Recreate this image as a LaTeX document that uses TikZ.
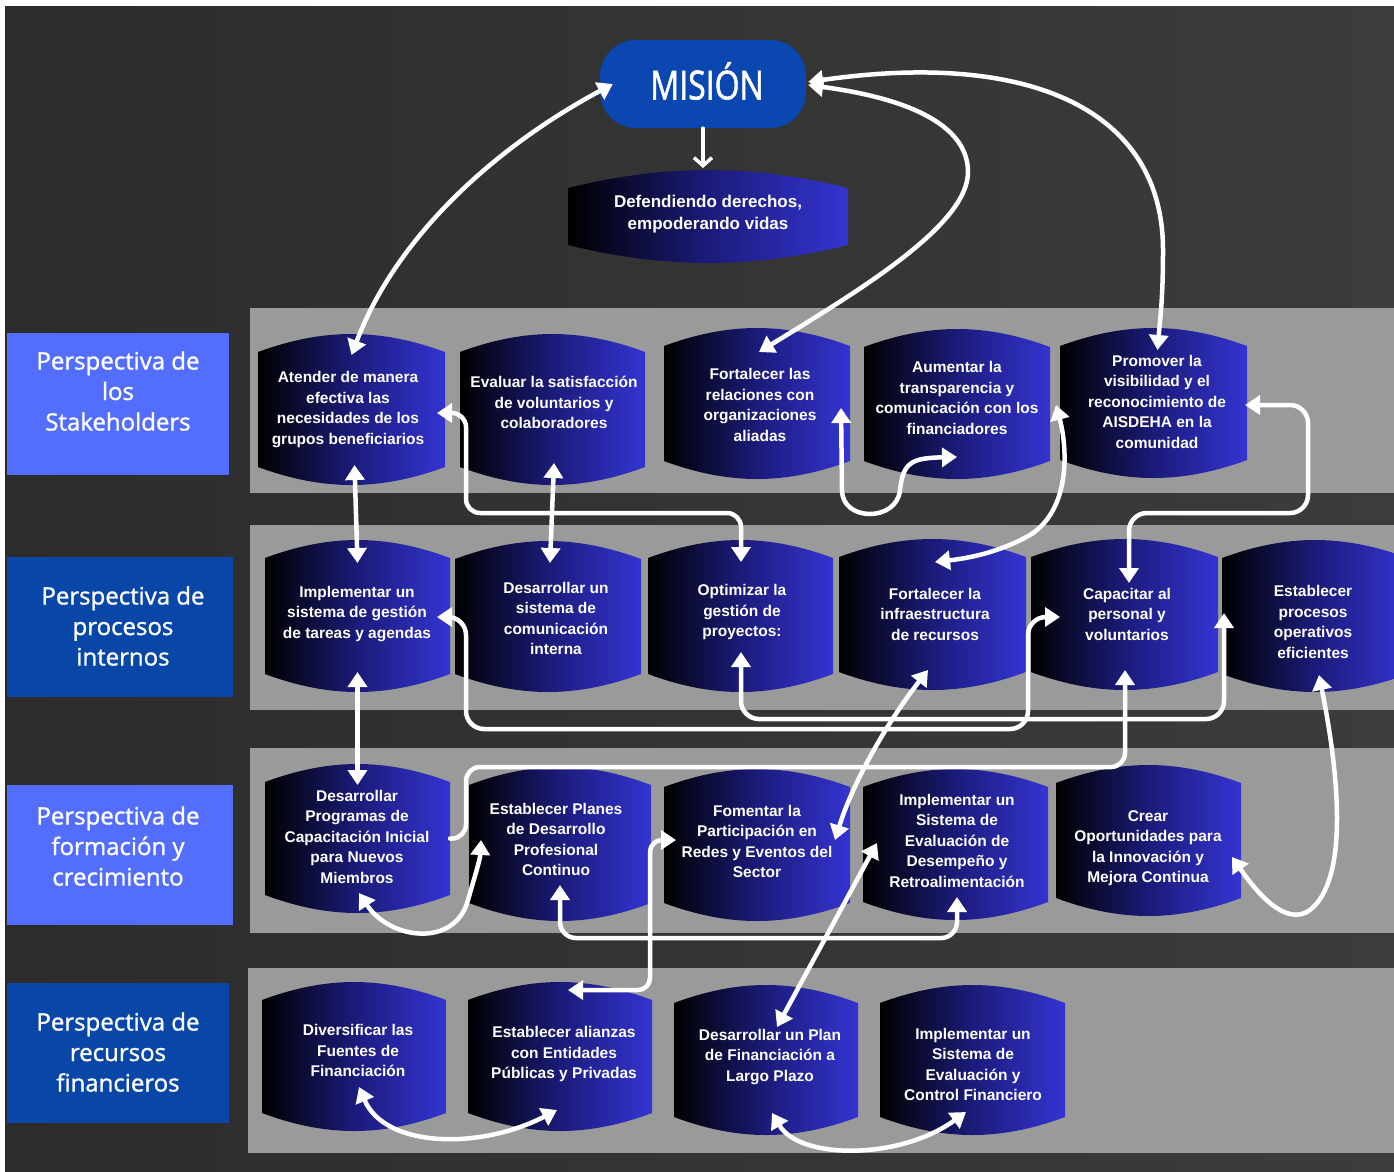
\documentclass[tikz,border=0pt]{standalone}
\usepackage{fontspec}
\usetikzlibrary{arrows.meta,calc}
\newfontfamily\boxfont{Liberation Sans}
\newfontfamily\perfont[FakeBold=1.2]{Open Sans}
\newfontfamily\misfont[FakeBold=1.6]{Open Sans}
\definecolor{bgA}{HTML}{2C2C2C}
\definecolor{bgB}{HTML}{3C3C3C}
\definecolor{band}{HTML}{9A9A9A}
\definecolor{lblue}{HTML}{536EFC}
\definecolor{dblue}{HTML}{0847A8}
\definecolor{misblue}{HTML}{0B47B1}
\definecolor{boxr}{HTML}{3434D2}
\definecolor{boxm}{HTML}{1B1B7A}
\tikzset{
  boxfill/.style={left color=black, right color=boxr, middle color=boxm},
  boxtext/.style={text=white, align=center, inner sep=0pt,
    font=\boxfont\bfseries\fontsize{15.5}{20.5}\selectfont},
  perbox/.style={inner sep=0pt, outer sep=0pt},
  pertext/.style={text=white, align=center, inner sep=0pt,
    font=\perfont\fontsize{24}{30.5}\selectfont},
  conn/.style={draw=white, line width=4.5pt, line cap=round, line join=round},
  >={Triangle[width=19pt,length=15pt]}
}
\newcommand\obox[8]{%
  \node[minimum width=#4pt, minimum height=#5pt, inner sep=0pt, outer sep=0pt] (#1) at (#2,#3) {};
  \path[boxfill] (#1.north west)
     .. controls ($(#1.north west)+(0.35*#4,-24)$) and ($(#1.north east)+(-0.35*#4,-24)$) .. (#1.north east)
     -- (#1.south east)
     .. controls ($(#1.south east)+(-0.35*#4,24)$) and ($(#1.south west)+(0.35*#4,24)$) .. (#1.south west)
     -- cycle;
  \node[boxtext] at (#6,#7) {#8};
}
\begin{document}
\begin{tikzpicture}[x=1pt,y=-1pt]
\useasboundingbox (0,0) rectangle (1394,1171);
\fill[white] (0,0) rectangle (1394,1171);
\shade[left color=bgA, right color=bgB] (5,6) rectangle (1394,1171);
% bands
\fill[band] (250,308) rectangle (1394,493);
\fill[band] (250,525) rectangle (1394,710);
\fill[band] (250,748) rectangle (1394,933);
\fill[band] (248,968) rectangle (1394,1153);
% perspective labels
\node[perbox, fill=lblue, minimum width=222pt, minimum height=142pt] (P1) at (118,404) {};
\node[pertext] at (118,391) {Perspectiva de\\los\\Stakeholders};
\node[perbox, fill=dblue, minimum width=226pt, minimum height=140pt] (P2) at (120,627) {};
\node[pertext] at (123,626) {Perspectiva de\\procesos\\internos};
\node[perbox, fill=lblue, minimum width=226pt, minimum height=140pt] (P3) at (120,855) {};
\node[pertext] at (118,846) {Perspectiva de\\formación y\\crecimiento};
\node[perbox, fill=dblue, minimum width=222pt, minimum height=140pt] (P4) at (118,1053) {};
\node[pertext] at (118,1052) {Perspectiva de\\recursos\\financieros};
% mission
\node[fill=misblue, rounded corners=36pt, minimum width=206pt, minimum height=88pt, inner sep=0pt] (MIS) at (703,84) {};
\node[text=white, font=\misfont\fontsize{40}{41}\selectfont, inner sep=0pt] at (707,81) {\scalebox{0.8}[1]{MISIÓN}};
\obox{DEF}{708}{216.5}{280}{57}{708}{214}{}
\node[text=white, align=center, inner sep=0pt, font=\boxfont\bfseries\fontsize{17}{22}\selectfont] at (708,214) {Defendiendo derechos,\\empoderando vidas};
% row 1
\obox{A1}{351.5}{409.5}{187}{115}{348}{409.5}{Atender de manera\\efectiva las\\necesidades de los\\grupos beneficiarios}
\obox{A2}{552.5}{409.5}{185}{115}{554}{402.5}{Evaluar la satisfacción\\de voluntarios y\\colaboradores}
\obox{A3}{757}{403.5}{186}{115}{760}{405}{Fortalecer las\\relaciones con\\organizaciones\\aliadas}
\obox{A4}{957}{404}{186}{114}{957}{398}{Aumentar la\\transparencia y\\comunicación con los\\financiadores}
\obox{A5}{1153.5}{403}{187}{114}{1157}{401.5}{Promover la\\visibilidad y el\\reconocimiento de\\AISDEHA en la\\comunidad}
% row 2
\obox{B1}{357.5}{616}{185}{116}{357}{614}{Implementar un\\sistema de gestión\\de tareas y agendas}
\obox{B2}{548}{616.5}{186}{115}{556}{618.5}{Desarrollar un\\sistema de\\comunicación\\interna}
\obox{B3}{740.5}{616}{185}{116}{742}{612}{Optimizar la\\gestión de\\proyectos:}
\obox{B4}{932.5}{614.5}{187}{115}{935}{614}{Fortalecer la\\infraestructura\\de recursos}
\obox{B5}{1124.5}{614.5}{187}{115}{1127}{614}{Capacitar al\\personal y\\voluntarios}
\obox{B6}{1315}{616}{186}{116}{1313}{622}{Establecer\\procesos\\operativos\\eficientes}
% row 3
\obox{C1}{357.5}{838.5}{185}{113}{357}{836.5}{Desarrollar\\Programas de\\Capacitación Inicial\\para Nuevos\\Miembros}
\obox{C2}{560}{844}{182}{118}{556}{839.5}{Establecer Planes\\de Desarrollo\\Profesional\\Continuo}
\obox{C3}{757}{845}{186}{116}{757}{841.5}{Fomentar la\\Participación en\\Redes y Eventos del\\Sector}
\obox{C4}{955.5}{844.5}{185}{115}{957}{840.5}{Implementar un\\Sistema de\\Evaluación de\\Desempeño y\\Retroalimentación}
\obox{C5}{1148.5}{840.5}{185}{115}{1148}{848}{Crear\\Oportunidades para\\la Innovación y\\Mejora Continua}
% row 4
\obox{D1}{354}{1056.5}{184}{113}{358}{1050.5}{Diversificar las\\Fuentes de\\Financiación}
\obox{D2}{560}{1056.5}{184}{113}{564}{1054}{Establecer alianzas\\con Entidades\\Públicas y Privadas}
\obox{D3}{766}{1060}{184}{114}{770}{1057}{Desarrollar un Plan\\de Financiación a\\Largo Plazo}
\obox{D4}{972.5}{1060}{185}{114}{973}{1064.5}{Implementar un\\Sistema de\\Evaluación y\\Control Financiero}
% connectors
\draw[draw=white, line width=3.5pt, line cap=round, -{Straight Barb[length=8pt,width=18pt]}]
  (MIS.south) -- ($(MIS.south |- DEF.north)+(0,-20)$);
\draw[conn,<->] ($(A1.north)+(0,3)$) .. controls (395,240) and (490,150) .. ($(MIS.west)+(13,0)$);
\draw[conn,<->] ($(MIS.east)+(2,1)$) .. controls (920,100) and (968,130) .. (968,172)
   .. controls (968,225) and (860,290) .. ($(A3.north)+(2,6)$);
\draw[conn,<->] ($(MIS.east)+(2,-2)$) .. controls (1030,50) and (1163,110) .. (1163,250)
   .. controls (1163,300) and (1160,320) .. ($(A5.north)+(4,4)$);
\draw[conn,<->] ($(A1.south)+(3,-2)$) -- ($(B1.north)+(0,5)$);
\draw[conn,<->] ($(A2.south)+(1.5,-4)$) -- ($(B2.north)+(2,4)$);
\draw[conn,<->,rounded corners=14pt] ($(A1.east)+(-8,3.5)$) -| (466,513) -| ($(B3.north)+(0.5,4)$);
\draw[conn,<->] ($(A3.east)+(-9,4.5)$) -- (842,490) .. controls (842,522) and (897,522) .. (900,490)
   .. controls (903,462) and (912,458) .. ($(A4.south)+(0,-4)$);
\draw[conn,<->] ($(A4.east)+(6,1)$) .. controls (1068,450) and (1070,510) .. (1030,535)
   .. controls (1000,552) and (970,558) .. ($(B4.north)+(2.5,5)$);
\draw[conn,<->,rounded corners=18pt] ($(A5.east)+(-2,2)$) -| (1308,513) -| ($(B5.north)+(4.5,26)$);
\draw[conn,<->,rounded corners=18pt] ($(B1.east)+(-13,1)$) -| (466,729) -| (1028,617) -- ($(B5.west)+(29,2.5)$);
\draw[conn,<->,rounded corners=18pt] ($(B3.south)+(0.5,-22)$) |- (1224,719) -- ($(B6.west)+(2,-3)$);
\draw[conn,<->] ($(B4.south)+(-4.5,-2)$) .. controls (885,725) and (852,785) .. ($(C3.east)+(-15,-5)$);
\draw[conn,<-,rounded corners=14pt] ($(B5.south)+(0.5,-2)$) |- (466,767) |- (C1.east);
\draw[conn,<->] ($(B6.south)+(4,1)$) .. controls (1340,780) and (1348,880) .. (1310,910)
   .. controls (1285,928) and (1255,890) .. ($(C5.east)+(-9,16.5)$);
\draw[conn,<->] ($(B1.south)+(0,-2)$) -- ($(C1.north)+(0,3)$);
\draw[conn,<->] ($(C1.south)+(1.5,-2)$) .. controls (390,940) and (455,948) .. (468,900)
   .. controls (476,872) and (480,860) .. ($(C2.west)+(12,-4)$);
\draw[conn,<->,rounded corners=16pt] ($(C2.south)+(0,-18)$) |- (957,938) -- ($(C4.south)+(1.5,-5)$);
\draw[conn,<->,rounded corners=12pt] ($(C3.west)+(12,-5)$) -| (650,990) -- ($(D2.north)+(8,-10)$);
\draw[conn,<->] ($(C4.west)+(14,-1.5)$) -- ($(D3.north)+(11,24)$);
\draw[conn,<->] ($(D1.south)+(5,-26)$) .. controls (385,1148) and (480,1150) .. ($(D2.south)+(-3,-3)$);
\draw[conn,<->] ($(D3.south)+(6,-4)$) .. controls (800,1160) and (900,1160) .. ($(D4.south)+(-6.5,-5)$);
\end{tikzpicture}
\end{document}
